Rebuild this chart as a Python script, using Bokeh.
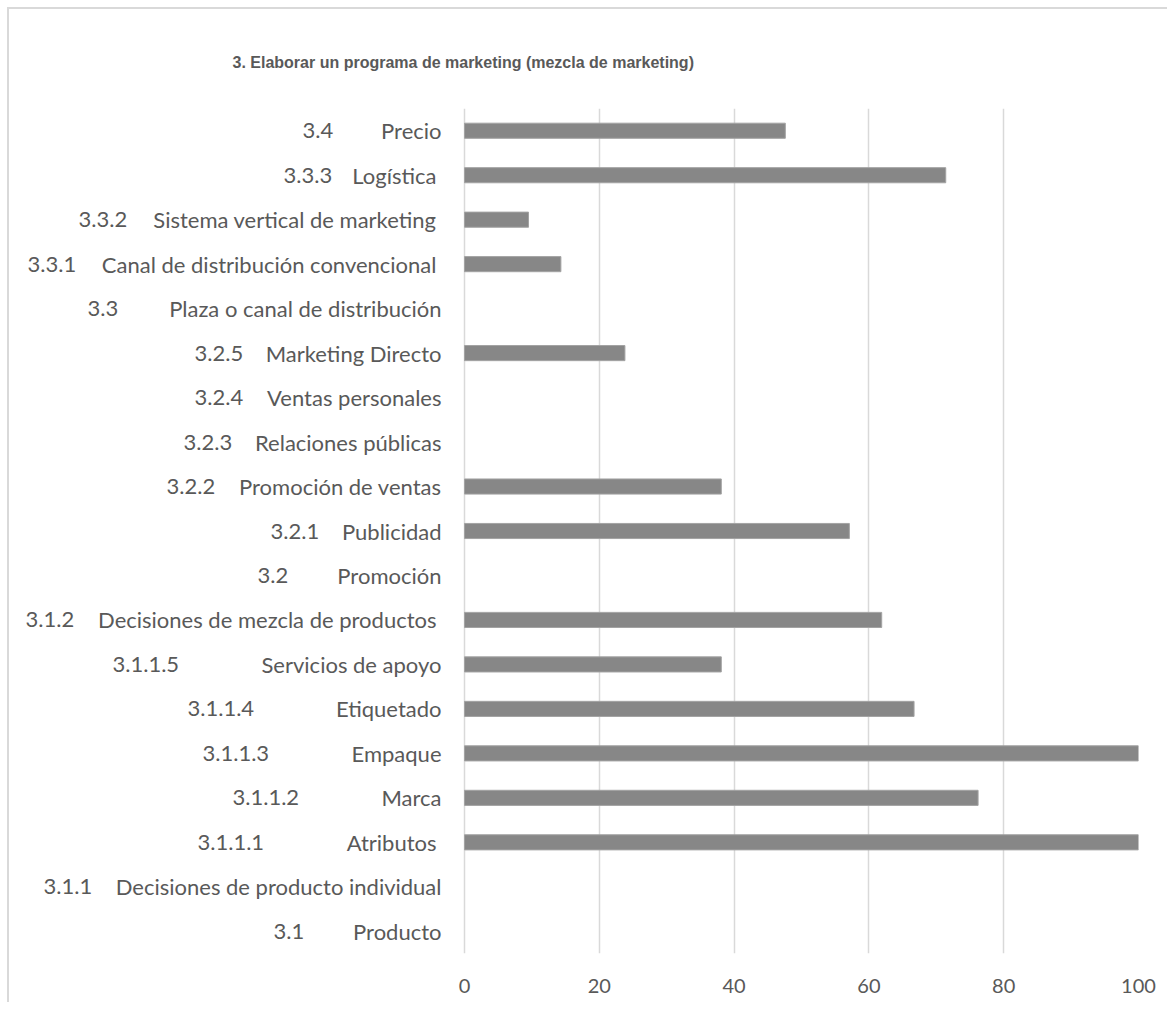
from bokeh.plotting import figure
from bokeh.models import FactorRange, ColumnDataSource, FixedTicker
from bokeh.core.properties import value
from bokeh.embed import file_html
from bokeh.resources import INLINE

# ---- data (bottom -> top) ----
numbers = ["3.1", "3.1.1", "3.1.1.1", "3.1.1.2", "3.1.1.3", "3.1.1.4", "3.1.1.5", "3.1.2",
           "3.2", "3.2.1", "3.2.2", "3.2.3", "3.2.4", "3.2.5", "3.3", "3.3.1", "3.3.2", "3.3.3", "3.4"]
names = ["Producto", "Decisiones de producto individual", "Atributos", "Marca", "Empaque",
         "Etiquetado", "Servicios de apoyo", "Decisiones de mezcla de productos", "Promoción",
         "Publicidad", "Promoción de ventas", "Relaciones públicas", "Ventas personales",
         "Marketing Directo", "Plaza o canal de distribución", "Canal de distribución convencional",
         "Sistema vertical de marketing", "Logística", "Precio"]
values = [0, 0, 100, 76.2, 100, 66.7, 38.1, 61.9, 0, 57.1, 38.1, 0, 0, 23.8, 0, 14.3, 9.5, 71.4, 47.6]
x_ticks = [0, 20, 40, 60, 80, 100]
title_text = "3. Elaborar un programa de marketing (mezcla de marketing)"

cats = [f"{n} {t}" for n, t in zip(numbers, names)]

# ---- layout (page pixel positions of label parts) ----
num_start_px = [273, 43, 197, 232, 202, 187, 112, 25, 257, 270, 166, 183, 194, 194, 87, 27, 78, 283, 302]
name_end_px = [441, 441, 436, 441, 441, 441, 441, 436, 441, 441, 441, 441, 441, 441, 441, 436, 436, 436, 441]
CANVAS_X0 = 9      # page x of canvas left edge
ZERO_PX = 464      # page x of value 0
FULL_PX = 1138     # page x of value 100
px_per_unit = (FULL_PX - ZERO_PX) / 100.0
x_start = -(ZERO_PX - CANVAS_X0) / px_per_unit

W, H = 1160, 995

TXT = "#595959"
FONT = "Lato"
LBL_SIZE = "22px"

p = figure(width=W, height=H, y_range=FactorRange(factors=cats), x_range=(x_start, 100),
           output_backend="svg", toolbar_location=None,
           min_border_left=0, min_border_right=W - (FULL_PX - CANVAS_X0), min_border_top=99,
           min_border_bottom=H - 944,
           outline_line_color=None, background_fill_color="white", border_fill_color="white",
           styles={"margin-left": "7px", "margin-top": "7px",
                   "border-left": "2px solid #d9d9d9", "border-top": "2px solid #d9d9d9"})

src = ColumnDataSource(dict(cat=cats, val=values, num=numbers, name=names,
                            xo_num=[x - ZERO_PX for x in num_start_px],
                            xo_name=[x - ZERO_PX for x in name_end_px],
                            zero=[0] * len(cats),
                            la=[1.0 if v > 0 else 0.0 for v in values]))

p.hbar(y="cat", right="val", left=0, height=0.34, source=src,
       fill_color="#878787", line_color="#a3a3a3", line_width=1, line_alpha="la")

# axes
p.yaxis.visible = False
p.xaxis.ticker = FixedTicker(ticks=x_ticks)
p.xaxis.axis_line_color = None
p.xaxis.major_tick_line_color = None
p.xaxis.minor_tick_line_color = None
p.xaxis.major_label_text_font = FONT
p.xaxis.major_label_text_font_size = "20px"
p.xaxis.major_label_text_color = TXT
p.xaxis.major_label_standoff = 19

p.xgrid.ticker = FixedTicker(ticks=x_ticks)
p.xgrid.grid_line_color = "#d9d9d9"
p.xgrid.grid_line_width = 1.5
p.ygrid.grid_line_color = None

# category labels (two parts, like the tab-separated Excel labels)
p.text(x="zero", y="cat", text="num", x_offset="xo_num", source=src,
       text_align="left", text_baseline="middle", text_font=value(FONT),
       text_font_size=LBL_SIZE, text_color=TXT)
p.text(x="zero", y="cat", text="name", x_offset="xo_name", source=src,
       text_align="right", text_baseline="middle", text_font=value(FONT),
       text_font_size=LBL_SIZE, text_color=TXT)

# title
p.title.text = title_text
p.title.align = "left"
p.title.offset = 232 - CANVAS_X0
p.title.standoff = 75
p.title.text_font = "Liberation Sans"
p.title.text_font_size = "16px"
p.title.text_font_style = "bold"
p.title.text_color = TXT

open("out.html", "w").write(file_html(p, INLINE))
